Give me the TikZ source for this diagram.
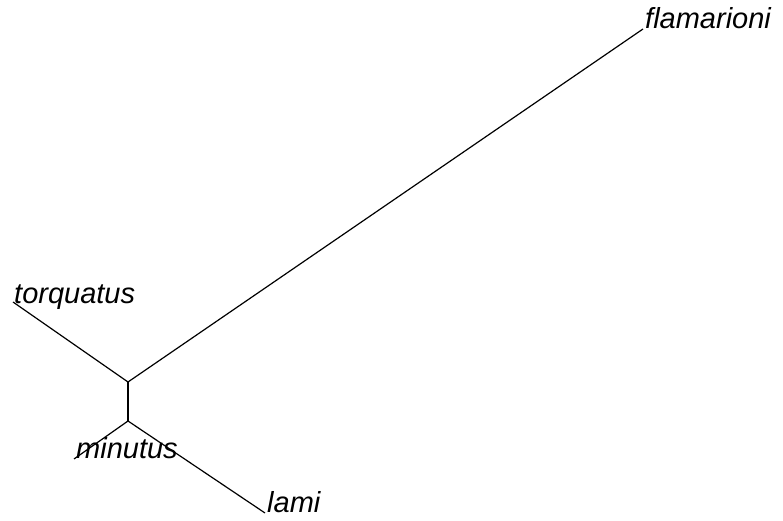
\documentclass[tikz,border=0pt]{standalone}
\usepackage{fontspec}
\setmainfont{Liberation Sans}
\begin{document}
\begin{tikzpicture}[x=1pt,y=1pt,
  leaf/.style={anchor=base west,inner sep=0pt,font=\itshape\fontsize{29}{33}\selectfont},
  branch/.style={draw=black,line width=1.2pt}]
\useasboundingbox (0,0) rectangle (783,521);
\coordinate (j1) at (128,139);
\coordinate (j2) at (128,100);
\coordinate (fl) at (643,492);
\coordinate (to) at (13,219);
\coordinate (mi) at (74,62);
\coordinate (la) at (265,8);
\node[leaf] (flt) at ([xshift=2pt]fl) {flamarioni};
\node[leaf] (tot) at ([xshift=1pt,yshift=-2pt]to) {torquatus};
\node[leaf] (mit) at ([xshift=2pt]mi) {minutus};
\node[leaf] (lat) at ([xshift=2pt]la) {lami};
\draw[branch] (j1) -- (fl);
\draw[branch] (j1) -- (to);
\draw[branch] (j1) -- (j2);
\draw[branch] (j2) -- (mi);
\draw[branch] (j2) -- (la);
\end{tikzpicture}
\end{document}
